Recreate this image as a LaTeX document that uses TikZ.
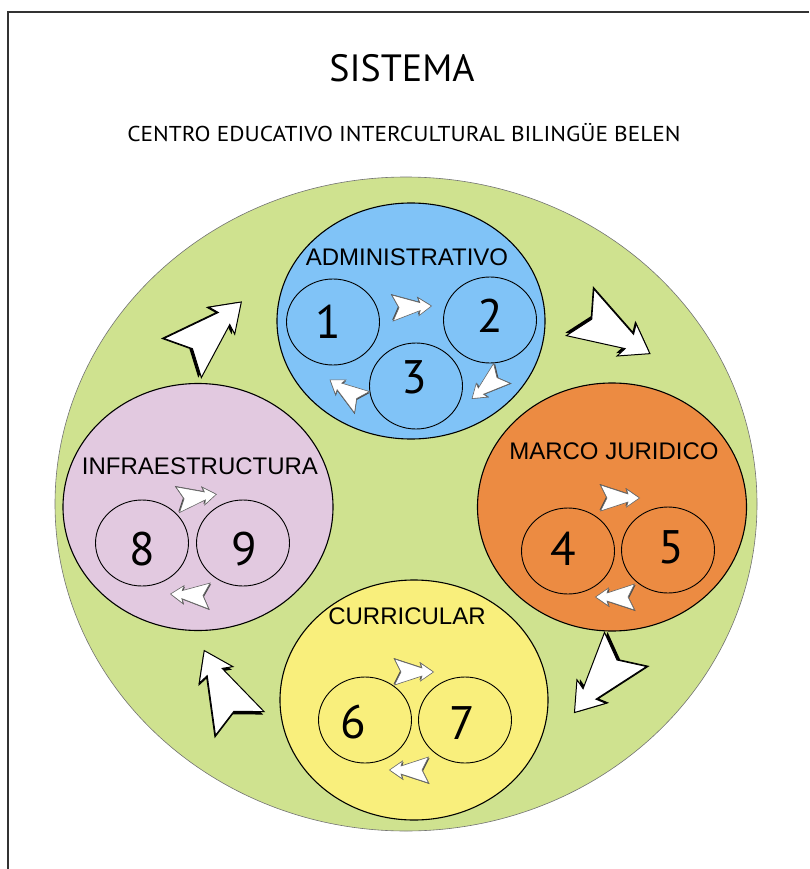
\documentclass[tikz,border=0pt]{standalone}
\usepackage{fontspec}
\setmainfont{PT Sans}
\newfontfamily\labelfont{Liberation Sans}
\usetikzlibrary{shapes.geometric}
\definecolor{bggreen}{RGB}{207,226,143}
\definecolor{admblue}{RGB}{128,195,247}
\definecolor{infpink}{RGB}{226,201,224}
\definecolor{jurorange}{RGB}{236,139,66}
\definecolor{curyellow}{RGB}{249,239,124}
\tikzset{
  region/.style={ellipse, draw=black, line width=1.1pt, inner sep=0pt},
  sub/.style={ellipse, draw=black, line width=0.9pt, inner sep=0pt, minimum width=93pt, minimum height=86pt},
  cat/.style={font=\labelfont\fontsize{24}{24}\selectfont, inner sep=0pt},
  num/.style={font=\fontsize{47}{47}\selectfont, inner sep=0pt},
  pics/fatarrow/.style={code={
    \fill[black, shift={(-2.2,-2)}] (39,0) -- (13,18) -- (16,8) -- (-39,26) -- (-26,0) -- (-39,-26) -- (16,-8) -- (13,-18) -- cycle;
    \draw[black, fill=white, line width=1pt, line join=miter] (39,0) -- (13,18) -- (16,8) -- (-39,26) -- (-26,0) -- (-39,-26) -- (16,-8) -- (13,-18) -- cycle;
  }},
  pics/smallarrow/.style={code={
    \fill[black!70, shift={(-2,-2)}] (39,0) -- (13,18) -- (16,8) -- (-39,26) -- (-26,0) -- (-39,-26) -- (16,-8) -- (13,-18) -- cycle;
    \draw[black!60, fill=white, line width=0.6pt, line join=miter] (39,0) -- (13,18) -- (16,8) -- (-39,26) -- (-26,0) -- (-39,-26) -- (16,-8) -- (13,-18) -- cycle;
  }},
}
\begin{document}
\begin{tikzpicture}[x=1pt, y=-1pt]
\useasboundingbox (0,0) rectangle (809,869);
% frame
\draw[black!80, line width=1.4pt] (809,12) -- (8,12) -- (8,869);
% titles
\node (title) at (402,68) {\fontsize{38}{38}\selectfont SISTEMA};
\node (subtitle) at (404,132.5) {\scalebox{1.085}[1]{\fontsize{21.5}{22}\selectfont CENTRO EDUCATIVO INTERCULTURAL BILINGÜE BELEN}};
% outer green system
\node[ellipse, fill=bggreen, draw=black!55, line width=0.6pt, inner sep=0pt, minimum width=702pt, minimum height=654pt] (system) at (406,504) {};
% big arrows
\pic[rotate=43.7, scale=1.04] at (212,330) {fatarrow};
\pic[rotate=-30.6, scale=1.04] at (615,333) {fatarrow};
\pic[rotate=-129, scale=1.04] at (600,681) {fatarrow};
\pic[rotate=116, scale=1.04] at (222,687) {fatarrow};
% regions
\node[region, fill=admblue, minimum width=268pt, minimum height=236pt] (adm) at (411,321) {};
\node[region, fill=infpink, minimum width=270pt, minimum height=247pt] (inf) at (198,507) {};
\node[region, fill=jurorange, minimum width=269pt, minimum height=248pt] (jur) at (612,507) {};
\node[region, fill=curyellow, minimum width=268pt, minimum height=240pt] (cur) at (414,700) {};
% labels
\node[cat] (admlab) at (407,257) {ADMINISTRATIVO};
\node[cat] (inflab) at (200,466) {INFRAESTRUCTURA};
\node[cat] (jurlab) at (614,451) {MARCO JURIDICO};
\node[cat] (curlab) at (407,616) {CURRICULAR};
% sub circles
\node[sub] (c1) at (333,322) {};
\node[sub] (c2) at (490,320) {};
\node[sub] (c3) at (416,386) {};
\node[sub] (c8) at (142,543) {};
\node[sub] (c9) at (243,543) {};
\node[sub] (c4) at (568,551) {};
\node[sub] (c5) at (668,550) {};
\node[sub] (c6) at (365,720) {};
\node[sub] (c7) at (465,720) {};
% digits
\node[num] (n1) at (328,322) {1};
\node[num] (n2) at (490,316) {2};
\node[num] (n3) at (414,377) {3};
\node[num] (n8) at (142,549) {8};
\node[num] (n9) at (244,549) {9};
\node[num] (n4) at (563,549) {4};
\node[num] (n5) at (671,547) {5};
\node[num] (n6) at (353,722) {6};
\node[num] (n7) at (462,723) {7};
% small arrows
\pic[rotate=3, scale=0.5] at (412,307) {smallarrow};
\pic[rotate=-140, scale=0.5] at (487,386) {smallarrow};
\pic[rotate=145, scale=0.5] at (346,391) {smallarrow};
\pic[rotate=8, scale=0.5] at (197,497) {smallarrow};
\pic[rotate=177, scale=0.5] at (190,595) {smallarrow};
\pic[rotate=0, scale=0.5] at (620,498) {smallarrow};
\pic[rotate=180, scale=0.5] at (615,597) {smallarrow};
\pic[rotate=0, scale=0.5] at (414,672) {smallarrow};
\pic[rotate=180, scale=0.5] at (409,770) {smallarrow};
\end{tikzpicture}
\end{document}
